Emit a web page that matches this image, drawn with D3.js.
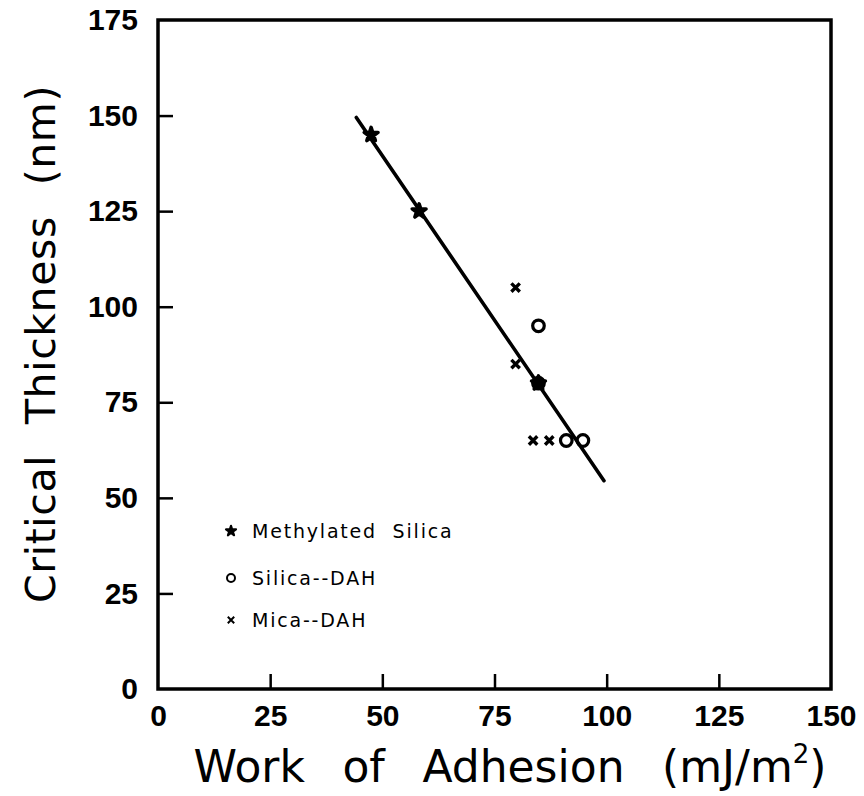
<!DOCTYPE html>
<html>
<head>
<meta charset="utf-8">
<script src="https://cdn.jsdelivr.net/npm/d3@7"></script>
<style>
  html, body { margin: 0; padding: 0; background: #fff; }
  svg { display: block; }
</style>
</head>
<body>
<svg id="chart" width="864" height="796"></svg>
<script>
// Axis ticks
const xTicks = [0, 25, 50, 75, 100, 125, 150];
const yTicks = [0, 25, 50, 75, 100, 125, 150, 175];

// Work of adhesion (mJ/m^2) vs. critical thickness (nm)
const methylatedSilica = [
  { w: 47.5, t: 145 },
  { w: 58.2, t: 125 },
  { w: 84.8, t: 80 }
];
const silicaDAH = [
  { w: 84.8, t: 95 },
  { w: 84.8, t: 80 },
  { w: 91.0, t: 65 },
  { w: 94.7, t: 65 }
];
const micaDAH = [
  { w: 79.7, t: 105 },
  { w: 79.7, t: 85 },
  { w: 83.6, t: 65 },
  { w: 87.2, t: 65 }
];

// End points of the fitted straight line
const fitLine = [
  { w: 44.2, t: 149.5 },
  { w: 99.4, t: 54.5 }
];

const legendItems = [
  { label: "Methylated  Silica", kind: "star" },
  { label: "Silica--DAH", kind: "circle" },
  { label: "Mica--DAH", kind: "cross" }
];

const svg = d3.select("#chart");
svg.append("rect").attr("width", 864).attr("height", 796).attr("fill", "#fff");

const x = d3.scaleLinear().domain([0, 150]).range([158, 831]);
const y = d3.scaleLinear().domain([0, 175]).range([689, 20]);

const tickFont = "'Liberation Sans', Arial, sans-serif";
const titleFont = "'DejaVu Sans', 'Liberation Sans', sans-serif";

// Frame
svg.append("rect")
  .attr("x", x(0)).attr("y", y(175))
  .attr("width", x(150) - x(0)).attr("height", y(0) - y(175))
  .attr("fill", "none").attr("stroke", "#000").attr("stroke-width", 3.5);

// X axis
const gx = svg.append("g")
  .attr("transform", `translate(0,${y(0)})`)
  .call(d3.axisBottom(x).tickValues(xTicks).tickSize(-15).tickPadding(16).tickFormat(d3.format("d")));
gx.select(".domain").remove();
gx.attr("font-family", tickFont).attr("font-size", 30).attr("font-weight", "bold").attr("color", "#000");
gx.selectAll(".tick line").attr("stroke-width", 2.5).filter(d => d === 0 || d === 150).remove();

// Y axis
const gy = svg.append("g")
  .attr("transform", `translate(${x(0)},0)`)
  .call(d3.axisLeft(y).tickValues(yTicks).tickSize(-15).tickPadding(20).tickFormat(d3.format("d")));
gy.select(".domain").remove();
gy.attr("font-family", tickFont).attr("font-size", 30).attr("font-weight", "bold").attr("color", "#000");
gy.selectAll(".tick line").attr("stroke-width", 2.5).filter(d => d === 0 || d === 175).remove();

// Fitted line
svg.append("path")
  .datum(fitLine)
  .attr("fill", "none").attr("stroke", "#000").attr("stroke-width", 3.6).attr("stroke-linecap", "round")
  .attr("d", d3.line().x(d => x(d.w)).y(d => y(d.t)));

// Marker helpers
function drawStar(g, cx, cy, size, sw) {
  g.append("path")
    .attr("transform", `translate(${cx},${cy})`)
    .attr("d", d3.symbol(d3.symbolStar, size)())
    .attr("fill", "#000").attr("stroke", "#000").attr("stroke-width", sw).attr("stroke-linejoin", "round");
}
function drawCircle(g, cx, cy, r, sw) {
  g.append("circle").attr("cx", cx).attr("cy", cy).attr("r", r)
    .attr("fill", "none").attr("stroke", "#000").attr("stroke-width", sw);
}
function drawCross(g, cx, cy, h, sw) {
  g.append("path")
    .attr("d", `M${cx - h},${cy - h}L${cx + h},${cy + h}M${cx - h},${cy + h}L${cx + h},${cy - h}`)
    .attr("stroke", "#000").attr("stroke-width", sw).attr("fill", "none");
}

const marks = svg.append("g");
silicaDAH.forEach(d => drawCircle(marks, x(d.w), y(d.t), 5.8, 3.2));
micaDAH.forEach(d => drawCross(marks, x(d.w), y(d.t), 4.2, 3.4));
methylatedSilica.forEach(d => drawStar(marks, x(d.w), y(d.t), 60, 3.5));

// Legend
const legend = svg.append("g");
const legendX = 231, textX = 252, legendY = [531, 578, 620];
legendItems.forEach((item, i) => {
  const cy = legendY[i];
  if (item.kind === "star") drawStar(legend, legendX, cy, 32, 2);
  else if (item.kind === "circle") drawCircle(legend, legendX, cy, 4, 2);
  else drawCross(legend, legendX, cy, 3.2, 2);
  legend.append("text")
    .attr("x", textX).attr("y", cy + 7)
    .attr("font-family", titleFont).attr("font-size", 19)
    .attr("letter-spacing", 1.8)
    .attr("xml:space", "preserve")
    .style("white-space", "pre")
    .text(item.label);
});

// Stretch word gaps so a title spans the given width
function fitWords(sel, target, gaps) {
  const w = sel.node().getBBox().width;
  sel.attr("word-spacing", (target - w) / gaps);
}

// X title
const xt = svg.append("text")
  .attr("x", 510).attr("y", 782)
  .attr("text-anchor", "middle")
  .attr("font-family", titleFont).attr("font-size", 44);
xt.append("tspan").text("Work of Adhesion (mJ/m");
xt.append("tspan").attr("font-size", 26).attr("dy", -19).text("2");
xt.append("tspan").attr("dy", 19).text(")");
fitWords(xt, 633, 3);

// Y title
const yt = svg.append("text")
  .attr("transform", "translate(55,344) rotate(-90)")
  .attr("text-anchor", "middle")
  .attr("font-family", titleFont).attr("font-size", 41)
  .attr("letter-spacing", 0.6)
  .text("Critical Thickness (nm)");
fitWords(yt, 518, 2);
</script>
</body>
</html>
